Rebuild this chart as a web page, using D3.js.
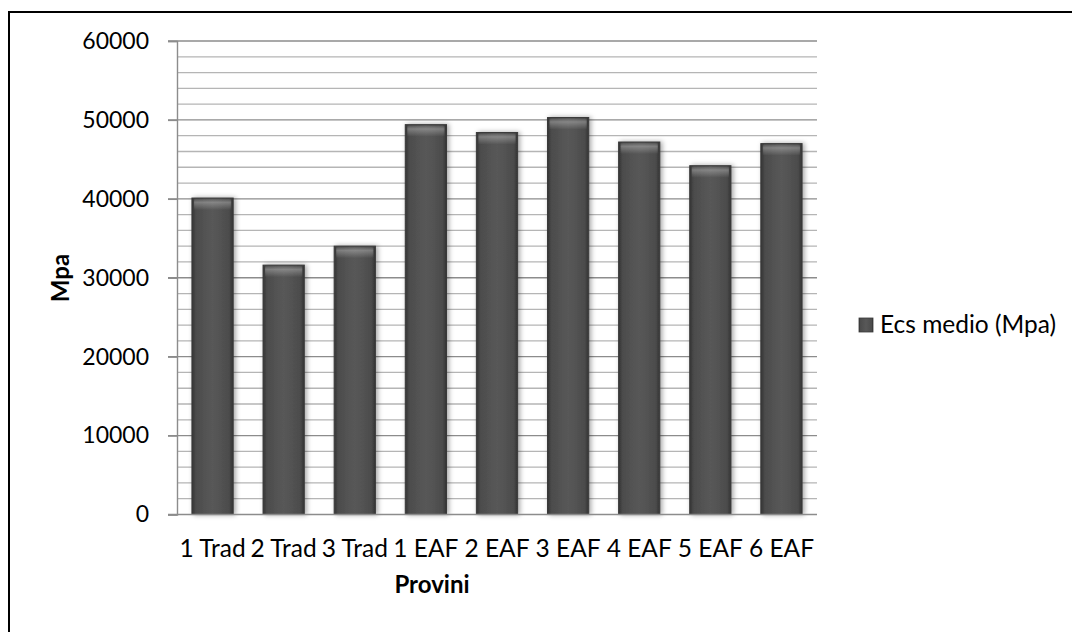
<!DOCTYPE html>
<html><head><meta charset="utf-8">
<script src="https://cdn.jsdelivr.net/npm/d3@7"></script>
<style>
html,body{margin:0;padding:0;background:#fff;}
svg text{font-family:Lato, "Open Sans", sans-serif;fill:#000;}
</style></head>
<body><svg id="c" width="1072" height="632"></svg>
<script>
const categories = ["1 Trad","2 Trad","3 Trad","1 EAF","2 EAF","3 EAF","4 EAF","5 EAF","6 EAF"];
const values = [40100, 31600, 34000, 49400, 48400, 50300, 47200, 44200, 47000];
const yTicks = [0, 10000, 20000, 30000, 40000, 50000, 60000];
const minorTicks = d3.range(0, 60001, 2000);
const seriesName = "Ecs medio (Mpa)";
const xTitle = "Provini";
const yTitle = "Mpa";

const svg = d3.select("#c");
const L = 177, R = 817, T = 41, B = 514.5;

const defs = svg.append("defs");
const g1 = defs.append("linearGradient").attr("id","barg").attr("x1","0").attr("x2","1").attr("y1","0").attr("y2","0");
[[0,"#333"],[0.1,"#4c4c4c"],[0.5,"#585858"],[0.9,"#4c4c4c"],[1,"#333"]].forEach(([o,c])=>g1.append("stop").attr("offset",o).attr("stop-color",c));
const g2 = defs.append("linearGradient").attr("id","topg").attr("x1","0").attr("x2","0").attr("y1","0").attr("y2","1");
[[0,"#fff",0.05],[0.3,"#fff",0.28],[1,"#fff",0]].forEach(([o,c,a])=>g2.append("stop").attr("offset",o).attr("stop-color",c).attr("stop-opacity",a));
const f = defs.append("filter").attr("id","sh").attr("x","-30%").attr("y","-10%").attr("width","160%").attr("height","120%");
f.append("feDropShadow").attr("dx",2).attr("dy",0).attr("stdDeviation",2.5).attr("flood-color","#000").attr("flood-opacity",0.35);

// outer border
svg.append("rect").attr("x",9).attr("y",12).attr("width",1080).attr("height",640)
  .attr("fill","none").attr("stroke","#000").attr("stroke-width",2);

const x = d3.scaleBand().domain(categories).range([L,R]).paddingInner(0.42).paddingOuter(0.21);
const y = d3.scaleLinear().domain([0,60000]).range([B,T]);

// minor gridlines
svg.append("g").selectAll("line").data(minorTicks.filter(v=>v%10000!==0)).join("line")
  .attr("x1",L).attr("x2",R).attr("y1",d=>y(d)).attr("y2",d=>y(d))
  .attr("stroke","#b5b5b5").attr("stroke-width",1.3);
// major gridlines
svg.append("g").selectAll("line").data(yTicks.filter(v=>v>0)).join("line")
  .attr("x1",168).attr("x2",R).attr("y1",d=>y(d)).attr("y2",d=>y(d))
  .attr("stroke","#8c8c8c").attr("stroke-width",1.4);

// y axis
const yAxis = svg.append("g").attr("transform",`translate(${L},0)`)
  .call(d3.axisLeft(y).tickValues(yTicks).tickSize(9).tickPadding(19).tickFormat(d3.format("d")));
yAxis.select(".domain").attr("stroke","#8c8c8c").attr("stroke-width",1.4);
yAxis.selectAll(".tick line").attr("stroke","#8c8c8c").attr("stroke-width",1.4);
yAxis.selectAll(".tick text").attr("font-size",23).attr("font-family","Lato").attr("fill","#000");

// bars
const bars = svg.append("g");
bars.selectAll("rect.bar").data(values).join("rect").attr("class","bar")
  .attr("x",(d,i)=>x(categories[i])).attr("width",x.bandwidth())
  .attr("y",d=>y(d)).attr("height",d=>B-y(d))
  .attr("fill","url(#barg)").attr("stroke","#3a3a3a").attr("stroke-width",1)
  .attr("filter","url(#sh)");
bars.selectAll("rect.top").data(values).join("rect").attr("class","top")
  .attr("x",(d,i)=>x(categories[i])+2).attr("width",x.bandwidth()-4)
  .attr("y",d=>y(d)+1).attr("height",11)
  .attr("fill","url(#topg)");

// x axis
const xAxis = svg.append("g").attr("transform",`translate(0,${B})`)
  .call(d3.axisBottom(x).tickSize(0).tickPadding(25));
xAxis.select(".domain").remove();
svg.append("line").attr("x1",168).attr("x2",R).attr("y1",B).attr("y2",B)
  .attr("stroke","#8c8c8c").attr("stroke-width",1.4);
xAxis.selectAll(".tick text").attr("font-size",24.5).attr("font-family","Lato").attr("fill","#000");

// axis titles
svg.append("text").attr("x",432).attr("y",593).attr("text-anchor","middle")
  .attr("font-size",24).attr("font-weight","bold").text(xTitle);
svg.append("text").attr("transform","translate(69,278) rotate(-90)").attr("text-anchor","middle")
  .attr("font-size",24).attr("font-weight","bold").text(yTitle);

// legend
svg.append("rect").attr("x",859).attr("y",318).attr("width",14).attr("height",14)
  .attr("fill","url(#barg)").attr("stroke","#3a3a3a").attr("stroke-width",0.8);
svg.append("text").attr("x",880).attr("y",333).attr("font-size",24.5).text(seriesName);
</script></body></html>
